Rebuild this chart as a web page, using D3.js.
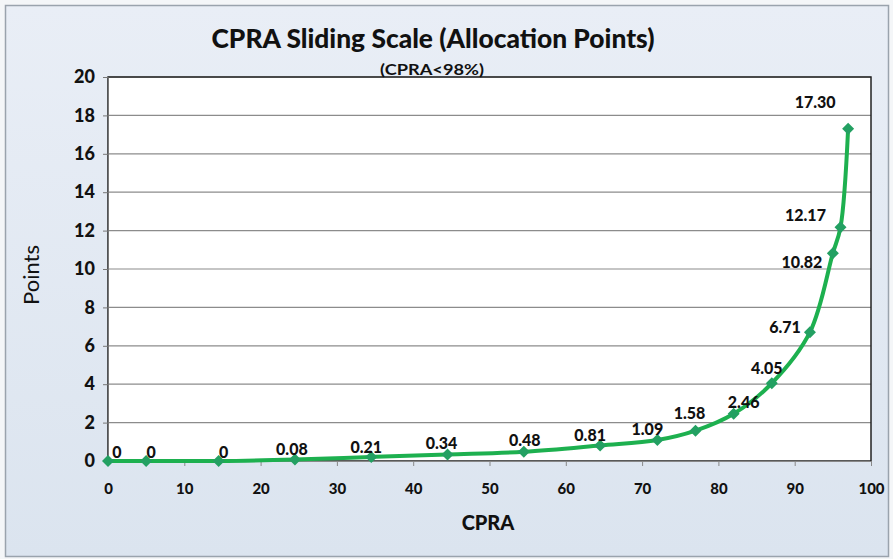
<!DOCTYPE html>
<html><head><meta charset="utf-8">
<script src="https://cdn.jsdelivr.net/npm/d3@7"></script>
<style>html,body{margin:0;padding:0;background:#fff}svg{display:block}</style>
</head><body><svg id="c" width="893" height="559"></svg>
<script>
const cpra = [0, 5, 14.5, 24.5, 34.5, 44.5, 54.5, 64.5, 72, 77, 82, 87, 92, 95, 96, 97];
const points = [0, 0, 0, 0.08, 0.21, 0.34, 0.48, 0.81, 1.09, 1.58, 2.46, 4.05, 6.71, 10.82, 12.17, 17.30];
const labels = ["0","0","0","0.08","0.21","0.34","0.48","0.81","1.09","1.58","2.46","4.05","6.71","10.82","12.17","17.30"];
const xTicks = [0,10,20,30,40,50,60,70,80,90,100];
const yTicks = [0,2,4,6,8,10,12,14,16,18,20];
const title = "CPRA Sliding Scale (Allocation Points)";
const subtitle = "(CPRA<98%)";
const xTitle = "CPRA", yTitle = "Points";

// label offsets (dx, dy) relative to marker
const labelOff = [[9,-10],[5,-10],[5,-10],[-3,-11],[-5,-10],[-6,-12],[1,-12],[-10,-11],[-10,-12],[-6,-18],[10,-12],[-5,-16],[-25,-6],[-31,8],[-35,-13],[-33,-27]];

const svg = d3.select("#c");
const W = 893, H = 559;
const FONT = "Lato, 'Open Sans', sans-serif";
const defs = svg.append("defs");
const g1 = defs.append("linearGradient").attr("id","bg").attr("x1",0).attr("y1",0).attr("x2",0).attr("y2",1);
g1.append("stop").attr("offset","0%").attr("stop-color","#e9eef6");
g1.append("stop").attr("offset","100%").attr("stop-color","#dbe4ef");
svg.append("rect").attr("width",W).attr("height",H).attr("fill","#f4f6f8");
svg.append("rect").attr("x",5.5).attr("y",5.5).attr("width",W-10).attr("height",H-8)
  .attr("fill","url(#bg)").attr("stroke","#9aa3ad").attr("stroke-width",1.5);

const L = 108, R = 871, T = 77, B = 461;
const x = d3.scaleLinear().domain([0,100]).range([L,R]);
const y = d3.scaleLinear().domain([0,20]).range([B,T]);

svg.append("rect").attr("x",L).attr("y",T).attr("width",R-L).attr("height",B-T).attr("fill","#ffffff");

// gridlines
svg.append("g").selectAll("line").data(yTicks.filter(d=>d>0)).join("line")
  .attr("x1",L).attr("x2",R).attr("y1",d=>y(d)).attr("y2",d=>y(d))
  .attr("stroke","#8c8c8c").attr("stroke-width",1.2);

// plot border
svg.append("rect").attr("x",L).attr("y",T).attr("width",R-L).attr("height",B-T)
  .attr("fill","none").attr("stroke","#222").attr("stroke-width",1.5);

// axes
const yAxis = d3.axisLeft(y).tickValues(yTicks).tickSize(5).tickPadding(8).tickFormat(d3.format("d"));
const gy = svg.append("g").attr("transform",`translate(${L},0)`).call(yAxis);
gy.select(".domain").attr("stroke","#777");
gy.selectAll(".tick line").attr("stroke","#777");
gy.selectAll("text").attr("font-family",FONT).attr("font-weight","900").attr("font-size",18).attr("fill","#111");

const xAxis = d3.axisBottom(x).tickValues(xTicks).tickSize(5).tickPadding(17).tickFormat(d3.format("d"));
const gx = svg.append("g").attr("transform",`translate(0,${B})`).call(xAxis);
gx.select(".domain").attr("stroke","#888");
gx.selectAll(".tick line").attr("stroke","#888");
gx.selectAll("text").attr("font-family",FONT).attr("font-weight","900").attr("font-size",15).attr("fill","#111");

// line
const data = cpra.map((c,i)=>({x:c,y:points[i],l:labels[i],o:labelOff[i]}));
const line = d3.line().x(d=>x(d.x)).y(d=>y(d.y)).curve(d3.curveCatmullRom.alpha(0.5));
svg.append("path").datum(data).attr("d",line).attr("fill","none")
  .attr("stroke","#1db04f").attr("stroke-width",4).attr("stroke-linejoin","round");

// markers (square rotated 45deg = Excel diamond)
const sym = d3.symbol().type(d3.symbolSquare).size(72);
svg.append("g").selectAll("path").data(data).join("path")
  .attr("d",sym).attr("transform",d=>`translate(${x(d.x)},${y(d.y)}) rotate(45)`)
  .attr("fill","#23a062");

// labels
svg.append("g").selectAll("text").data(data).join("text")
  .attr("x",d=>x(d.x)+d.o[0]).attr("y",d=>y(d.y)+d.o[1])
  .attr("text-anchor","middle").attr("dominant-baseline","central")
  .attr("font-family",FONT).attr("font-weight","900").attr("font-size",16)
  .attr("fill","#111").text(d=>d.l);

// titles
svg.append("text").attr("x",433).attr("y",48).attr("text-anchor","middle")
  .attr("font-family",FONT).attr("font-weight","900").attr("font-size",26)
  .attr("textLength",443).attr("lengthAdjust","spacingAndGlyphs").attr("fill","#111").text(title);
svg.append("text").attr("x",432).attr("y",75).attr("text-anchor","middle")
  .attr("font-family",FONT).attr("font-weight","bold").attr("font-size",15)
  .attr("textLength",104).attr("lengthAdjust","spacingAndGlyphs")
  .attr("fill","#111").text(subtitle);
svg.append("text").attr("x",488).attr("y",530).attr("text-anchor","middle")
  .attr("font-family",FONT).attr("font-weight","900").attr("font-size",20)
  .attr("fill","#111").text(xTitle);
svg.append("text").attr("transform","translate(39,275) rotate(-90)").attr("text-anchor","middle")
  .attr("font-family",FONT).attr("font-size",22)
  .attr("fill","#111").text(yTitle);
</script></body></html>
